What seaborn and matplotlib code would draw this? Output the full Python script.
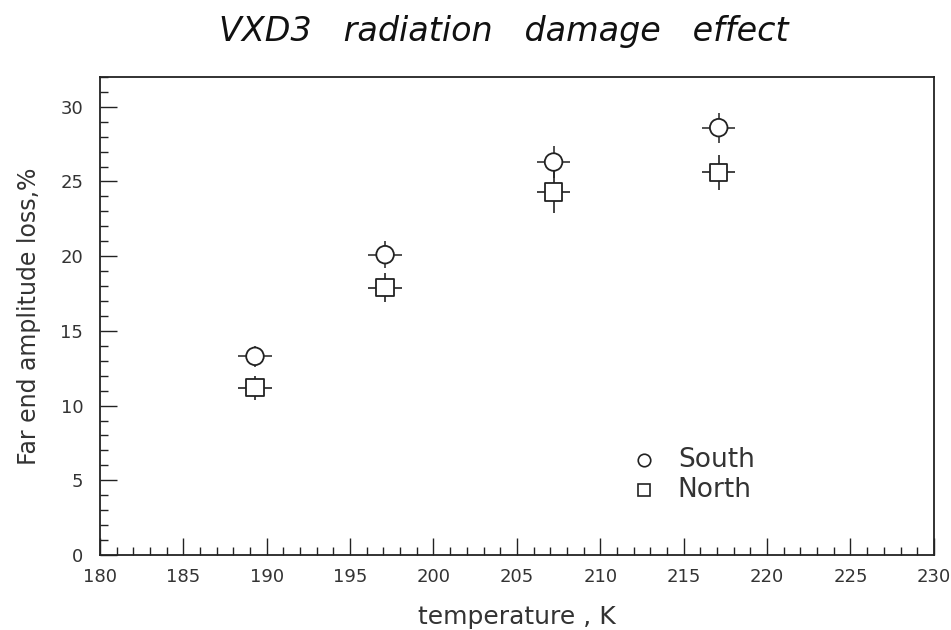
import matplotlib
matplotlib.use("Agg")
import matplotlib.pyplot as plt
import seaborn as sns
import pandas as pd
from matplotlib.ticker import MultipleLocator

temperature = [189.3, 197.1, 207.2, 217.1]
south = [13.3, 20.1, 26.3, 28.6]
north = [11.2, 17.9, 24.3, 25.6]
temp_err = [1.0, 1.0, 1.0, 1.0]
south_err = [0.7, 0.9, 1.1, 1.0]
north_err = [0.8, 1.0, 1.4, 1.2]

df = pd.DataFrame({
    "temperature": temperature * 2,
    "loss": south + north,
    "side": ["South"] * 4 + ["North"] * 4,
})

sns.set_theme(style="ticks")
plt.rcParams["font.family"] = ["DejaVu Sans"]

fig = plt.figure(figsize=(9.51, 6.30), dpi=100)
ax = fig.add_axes([0.105, 0.119, 0.877, 0.759])

ax.errorbar(temperature, south, xerr=temp_err, yerr=south_err, fmt="none",
            ecolor="#333333", elinewidth=1.2, capsize=0, zorder=2)
ax.errorbar(temperature, north, xerr=temp_err, yerr=north_err, fmt="none",
            ecolor="#222222", elinewidth=1.2, capsize=0, zorder=2)

sns.scatterplot(data=df, x="temperature", y="loss", style="side",
                markers={"South": "o", "North": "s"}, s=160,
                facecolor="white", edgecolor="#222222", linewidth=1.3,
                legend=False, ax=ax, zorder=3)

ax.set_xlim(180, 230)
ax.set_ylim(0, 32)
ax.xaxis.set_major_locator(MultipleLocator(5))
ax.xaxis.set_minor_locator(MultipleLocator(1))
ax.yaxis.set_major_locator(MultipleLocator(5))
ax.yaxis.set_minor_locator(MultipleLocator(1))
ax.tick_params(axis="both", which="major", direction="in", length=12, width=1.0,
               color="#222222", labelsize=13, labelcolor="#333333")
ax.tick_params(axis="x", which="major", pad=9)
ax.tick_params(axis="y", which="major", pad=12)
ax.tick_params(axis="both", which="minor", direction="in", length=6, width=1.0,
               color="#222222")
ax.tick_params(axis="x", which="both", top=False)
ax.tick_params(axis="y", which="both", right=False)
for sp in ax.spines.values():
    sp.set_visible(True)
    sp.set_color("#222222")
    sp.set_linewidth(1.3)

ax.set_xlabel("temperature , K", fontsize=18, color="#333333", labelpad=14)
ax.set_ylabel("Far end amplitude loss,%", fontsize=17, color="#333333", labelpad=14)

# legend
lx, ly, dy = 0.653, 0.199, 0.063
ax.plot([lx], [ly], marker="o", transform=ax.transAxes, ms=9, mfc="white",
        mec="#222222", mew=1.2, ls="none")
ax.plot([lx], [ly - dy], marker="s", transform=ax.transAxes, ms=9, mfc="white",
        mec="#222222", mew=1.2, ls="none")
ax.text(lx + 0.04, ly, "South", transform=ax.transAxes, fontsize=19,
        va="center", color="#333333")
ax.text(lx + 0.04, ly - dy, "North", transform=ax.transAxes, fontsize=19,
        va="center", color="#333333")

fig.text(0.53, 0.95, "VXD3   radiation   damage   effect", fontsize=24,
         style="italic", ha="center", va="center", color="#111111",
         fontweight="light")

fig.savefig("out.png", dpi=100, facecolor="white")
